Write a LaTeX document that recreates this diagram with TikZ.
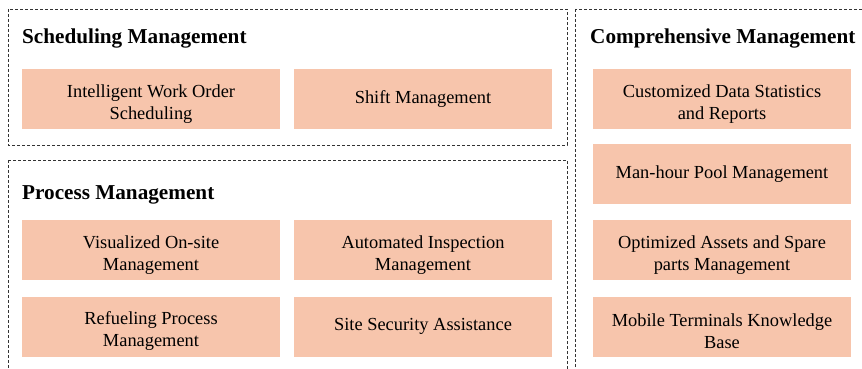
\documentclass[tikz,border=0pt]{standalone}
\usepackage{fontspec}
\setmainfont{Liberation Serif}
% taller first line so that two-line labels sit a little lower in their boxes
\newcommand{\toplift}{\rule{0pt}{22pt}}
\begin{document}
\begin{tikzpicture}[x=1pt,y=-1pt,
  frame/.style={draw=black!80, line width=0.8pt, dash pattern=on 3pt off 2pt},
  item/.style={fill=salmonfill, draw=none, minimum width=258pt, minimum height=60pt,
    align=center, font=\fontsize{18.4}{22}\selectfont, inner sep=0pt},
  heading/.style={anchor=west, font=\fontsize{21.2}{24}\selectfont\bfseries, inner sep=0pt}]
\definecolor{salmonfill}{RGB}{247,197,172}
\useasboundingbox (0,0) rectangle (862,369);
\clip (0,0) rectangle (862,369);
% group frames
\draw[frame] (8,9) rectangle (567,145);
\draw[frame] (8,160) rectangle (567,380);
\draw[frame] (575,9) rectangle (880,380);
% headings
\node[heading] (hs) at (22,38) {Scheduling Management};
\node[heading] (hp) at (22,195) {Process Management};
\node[heading] (hc) at (590,38) {Comprehensive Management};
% scheduling items
\node[item] (iwo) at (151,99) {\toplift Intelligent Work Order\\Scheduling};
\node[item] (shift) at (423,99) {Shift Management};
% process items
\node[item] (vis) at (151,250) {\toplift Visualized On-site\\Management};
\node[item] (auto) at (423,250) {\toplift Automated Inspection\\Management};
\node[item] (refuel) at (151,326.5) {\toplift Refueling Process\\Management};
\node[item] (sec) at (423,326.5) {Site Security Assistance};
% comprehensive items
\node[item] (stat) at (722,99) {\toplift Customized Data Statistics\\and Reports};
\node[item] (pool) at (722,174) {Man-hour Pool Management};
\node[item] (assets) at (722,250) {\toplift Optimized Assets and Spare\\parts Management};
\node[item] (mobile) at (722,326.5) {\toplift Mobile Terminals Knowledge\\Base};
\end{tikzpicture}
\end{document}
